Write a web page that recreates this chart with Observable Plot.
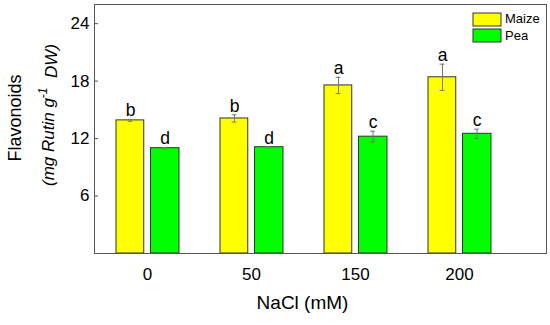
<!DOCTYPE html>
<html><head><meta charset="utf-8">
<script src="https://cdn.jsdelivr.net/npm/d3@7"></script>
<script src="https://cdn.jsdelivr.net/npm/@observablehq/plot@0.6"></script>
<style>
body{margin:0;background:#fff;}
#chart{position:relative;width:550px;height:325px;font-family:"Liberation Sans",Arial,sans-serif;}
#legend{position:absolute;left:473px;top:11px;}
#legend div{font:13px "Liberation Sans",Arial,sans-serif;color:#000;padding-bottom:0;line-height:16.5px;margin:0;}
#legend svg{stroke:#333;stroke-width:1px;margin-right:4px;overflow:visible;}
</style></head><body><div id="chart"><div id="legend"></div></div>
<script>
const groups = ["0", "50", "150", "200"];
const series = ["Maize", "Pea"];
const maizeValues = [13.9, 14.1, 17.55, 18.4];
const maizeErrors = [0.1, 0.38, 0.85, 1.37];
const peaValues = [11.0, 11.1, 12.2, 12.5];
const peaErrors = [0.08, 0.05, 0.57, 0.48];
const maizeLetters = ["b", "b", "a", "a"];
const peaLetters = ["d", "d", "c", "c"];
const yTicks = [6, 12, 18, 24];
const seriesColors = ["#ffff00", "#00ff00"];
const xTitle = "NaCl (mM)";
const yTitle1 = "Flavonoids";
const yTitle2 = "(mg Rutin g-1 DW)";

const rows = [];
groups.forEach((g, i) => {
  rows.push({group: g, series: "Maize", value: maizeValues[i], err: maizeErrors[i], letter: maizeLetters[i]});
  rows.push({group: g, series: "Pea", value: peaValues[i], err: peaErrors[i], letter: peaLetters[i]});
});

// placement of each series inside its group band (style only)
const place = {
  Maize: {insetLeft: 21, insetRight: 55.25, dx: -17},
  Pea: {insetLeft: 55.5, insetRight: 20, dx: 17.5}
};
const font = '"Liberation Sans", Arial, sans-serif';

const seriesMarks = series.flatMap(s => {
  const d = rows.filter(r => r.series === s);
  const p = place[s];
  return [
    Plot.barY(d, {x: "group", y: "value", fill: "series", stroke: "#333", strokeWidth: 1,
      insetLeft: p.insetLeft, insetRight: p.insetRight}),
    Plot.ruleX(d, {x: "group", y1: r => r.value - r.err, y2: r => r.value + r.err,
      dx: p.dx, stroke: "#777", strokeWidth: 1}),
    Plot.tickY(d, {x: "group", y: r => r.value + r.err, stroke: "#777",
      insetLeft: 52.1 + p.dx - 2.5, insetRight: 52.1 - p.dx - 2.5}),
    Plot.tickY(d, {x: "group", y: r => r.value - r.err, stroke: "#777",
      insetLeft: 52.1 + p.dx - 2.5, insetRight: 52.1 - p.dx - 2.5}),
    Plot.text(d, {x: "group", y: r => r.value + r.err, text: "letter", dx: p.dx, dy: -3,
      lineAnchor: "bottom", fontSize: 17.5, fill: "#000"})
  ];
});

const plot = Plot.plot({
  width: 550, height: 325,
  marginLeft: 94, marginRight: 4, marginTop: 4, marginBottom: 72,
  style: {fontFamily: font, fontSize: "17px", color: "#000", background: "#fff"},
  x: {domain: groups, range: [94, 511], padding: 0},
  y: {domain: [0, 26]},
  color: {domain: series, range: seriesColors},
  marks: [
    ...seriesMarks,
    Plot.axisX({tickSize: 0, tickPadding: 14, label: null, fontSize: 17}),
    Plot.axisY({ticks: yTicks, tickSize: 0, tickPadding: 5, label: null, fontSize: 17}),
    Plot.tickY(yTicks, {y: d => d, insetRight: 448, stroke: "#555"}),
    Plot.frame({stroke: "#555"}),
    Plot.text([xTitle], {frameAnchor: "bottom", dx: -18, dy: 55, fontSize: 19, fill: "#000"}),
    Plot.text([yTitle1], {frameAnchor: "left", textAnchor: "middle", rotate: -90, dx: -79, dy: -11, fontSize: 18, fill: "#000"}),
    Plot.text([yTitle2], {frameAnchor: "left", textAnchor: "middle", rotate: -90, dx: -46, dy: -14, fontSize: 17, fontStyle: "italic", fill: "#000"})
  ]
});
document.getElementById("chart").prepend(plot);

// superscript in the unit label
d3.select(plot).selectAll("text").filter(function() { return this.textContent === yTitle2; })
  .each(function() {
    const t = d3.select(this);
    t.text(null);
    t.append("tspan").text("(mg Rutin g");
    t.append("tspan").attr("dy", "-0.55em").attr("font-size", "12px").text("-1");
    t.append("tspan").attr("dy", "0.55em").text("\u00a0 DW)");
  });

const legend = Plot.legend({
  color: {domain: series, range: seriesColors},
  legend: "swatches", columns: 1, swatchWidth: 28, swatchHeight: 13
});
document.getElementById("legend").append(legend);
</script></body></html>
